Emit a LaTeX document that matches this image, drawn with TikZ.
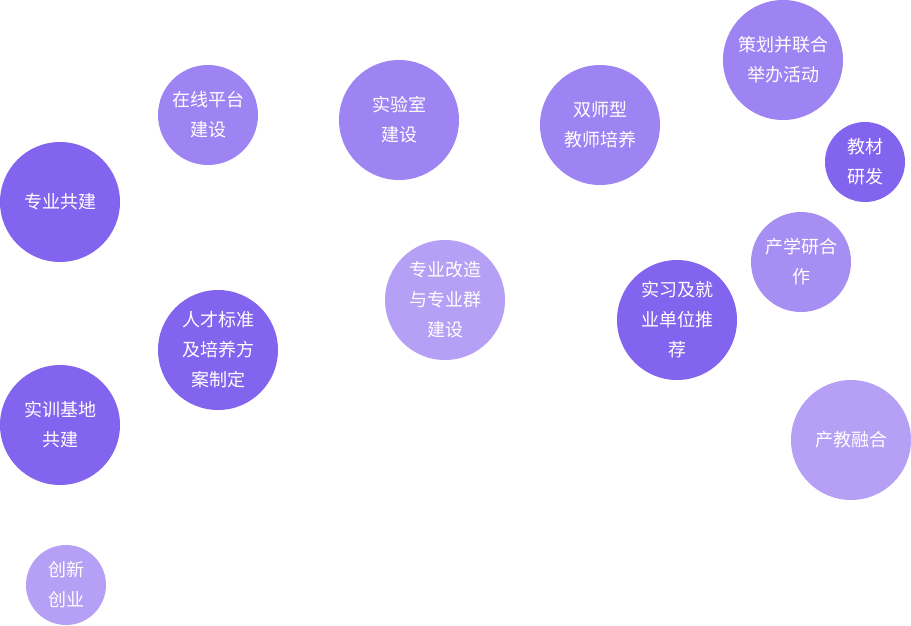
\documentclass[tikz,border=0pt]{standalone}
\usepackage{fontspec}
\setmainfont{Noto Sans CJK SC}
\definecolor{cdark}{HTML}{8364EE}
\definecolor{cmid}{HTML}{9E84F2}
\definecolor{clight}{HTML}{B5A0F5}
\tikzset{
  bub/.style={circle, inner sep=0pt, text=white, align=center,
    font=\fontsize{18}{30}\selectfont},
  big/.style={bub, minimum size=120pt},
  mid/.style={bub, minimum size=100pt},
  small/.style={bub, minimum size=80pt},
}
\begin{document}
\begin{tikzpicture}[x=1pt,y=-1pt]
\useasboundingbox (0,0) rectangle (911,625);
\node[big, fill=cdark] (zy) at (60,202) {专业共建};
\node[mid, fill=cmid] (zx) at (208,115) {在线平台\\建设};
\node[big, fill=cmid] (sy) at (399,120) {实验室\\建设};
\node[big, fill=cmid] (ss) at (600,125) {双师型\\教师培养};
\node[big, fill=cmid] (ch) at (783,60) {策划并联合\\举办活动};
\node[small, fill=cdark] (jc) at (865,162) {教材\\研发};
\node[mid, fill=cmid!92!white] (cx) at (801,262) {产学研合\\作};
\node[big, fill=clight] (gz) at (445,300) {专业改造\\与专业群\\建设};
\node[big, fill=cdark] (sx) at (677,320) {实习及就\\业单位推\\荐};
\node[big, fill=cdark] (rc) at (218,350) {人才标准\\及培养方\\案制定};
\node[big, fill=cdark] (sj) at (60,425) {实训基地\\共建};
\node[big, fill=clight] (cj) at (851,440) {产教融合};
\node[small, fill=clight] (cy) at (66,585) {创新\\创业};
\end{tikzpicture}
\end{document}
